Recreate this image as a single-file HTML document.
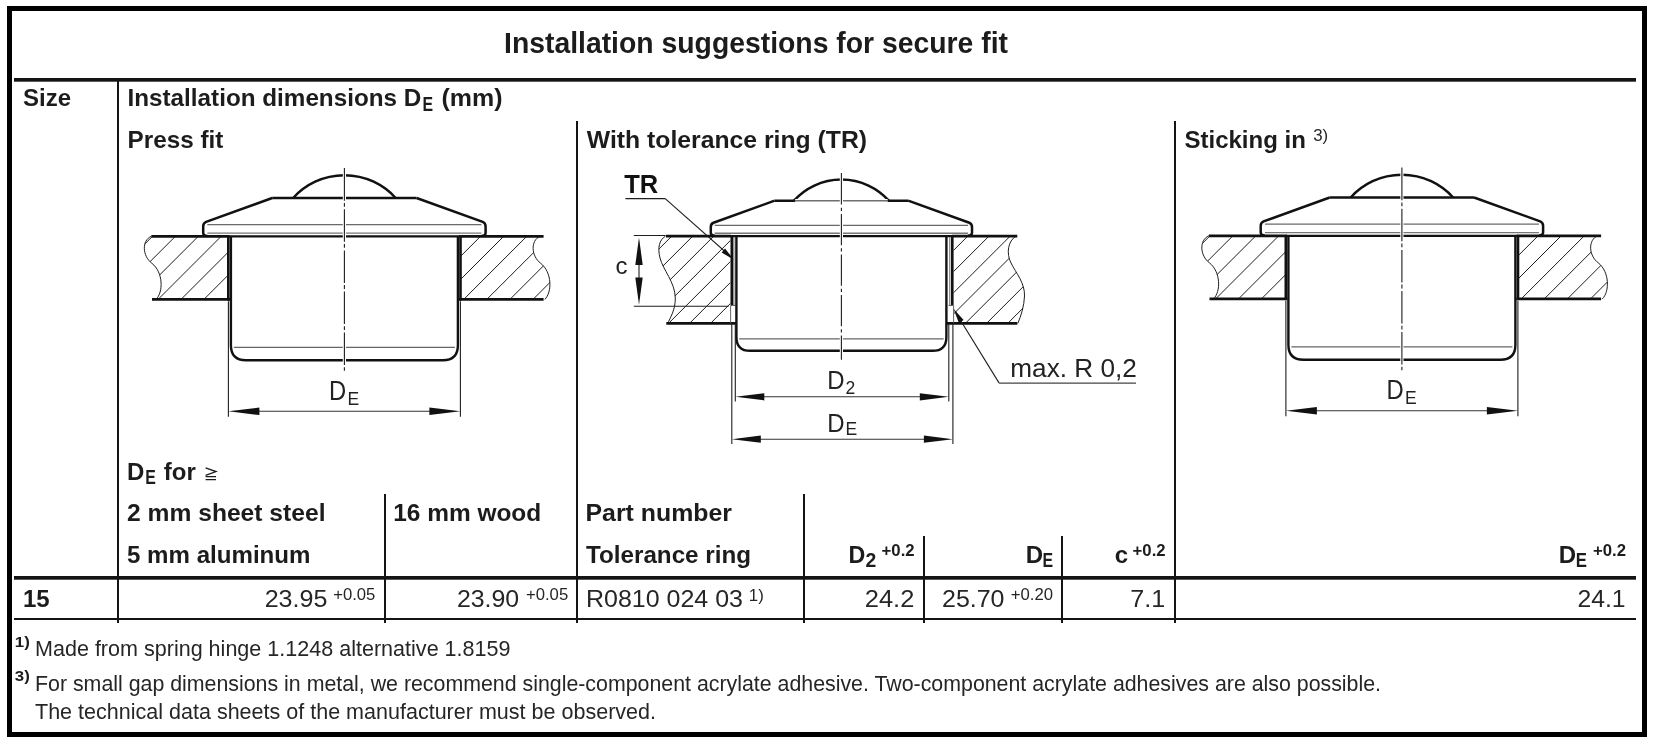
<!DOCTYPE html>
<html><head><meta charset="utf-8"><style>
html,body{margin:0;padding:0;background:#fff;width:1655px;height:745px;overflow:hidden}
svg{display:block;filter:grayscale(1)}
text{font-family:"Liberation Sans",sans-serif}
</style></head><body>
<svg width="1655" height="745" viewBox="0 0 1655 745">
<rect width="1655" height="745" fill="#fff"/>
<rect x="9.5" y="8.5" width="1635" height="726" fill="none" stroke="#000" stroke-width="5"/>
<rect x="14" y="78" width="1622" height="3.7" fill="#141414"/>
<rect x="14" y="576" width="1622" height="3.7" fill="#141414"/>
<rect x="14" y="618" width="1622" height="2" fill="#141414"/>
<rect x="117" y="80" width="2" height="543" fill="#141414"/>
<rect x="576" y="121" width="2" height="502" fill="#141414"/>
<rect x="1174" y="121" width="2" height="502" fill="#141414"/>
<rect x="384" y="494" width="2" height="129" fill="#141414"/>
<rect x="803" y="494" width="2" height="129" fill="#141414"/>
<rect x="923" y="536" width="2" height="87" fill="#141414"/>
<rect x="1061" y="536" width="2" height="87" fill="#141414"/>
<text x="756" y="53" font-size="29" font-weight="bold" text-anchor="middle" fill="#1c1c1c" textLength="504" lengthAdjust="spacingAndGlyphs">Installation suggestions for secure fit</text>
<text x="23" y="105.5" font-size="24" font-weight="bold" text-anchor="start" fill="#1c1c1c">Size</text>
<text x="127.5" y="105.5" font-size="24" font-weight="bold" text-anchor="start" fill="#1c1c1c" textLength="293.8" lengthAdjust="spacingAndGlyphs">Installation dimensions D</text>
<text x="422.4" y="110.6" font-size="19.4" font-weight="bold" text-anchor="start" fill="#1c1c1c" textLength="10.6" lengthAdjust="spacingAndGlyphs">E</text>
<text x="441.5" y="105.5" font-size="24" font-weight="bold" text-anchor="start" fill="#1c1c1c" textLength="61" lengthAdjust="spacingAndGlyphs">(mm)</text>
<text x="127.6" y="147.5" font-size="24" font-weight="bold" text-anchor="start" fill="#1c1c1c" textLength="95.8" lengthAdjust="spacingAndGlyphs">Press fit</text>
<text x="586.8" y="147.5" font-size="24" font-weight="bold" text-anchor="start" fill="#1c1c1c" textLength="280.2" lengthAdjust="spacingAndGlyphs">With tolerance ring (TR)</text>
<text x="1184.5" y="147.5" font-size="24" font-weight="bold" text-anchor="start" fill="#1c1c1c">Sticking in</text>
<text x="1313.2" y="140.6" font-size="16.5" text-anchor="start" fill="#262626" textLength="15" lengthAdjust="spacingAndGlyphs">3)</text>
<text x="127" y="479.8" font-size="24" font-weight="bold" text-anchor="start" fill="#1c1c1c">D</text>
<text x="145.2" y="483.8" font-size="19.4" font-weight="bold" text-anchor="start" fill="#1c1c1c" textLength="10.6" lengthAdjust="spacingAndGlyphs">E</text>
<text x="163.8" y="479.8" font-size="24" font-weight="bold" text-anchor="start" fill="#1c1c1c">for</text>
<path d="M205.6,467.9 L216,471.6 L205.6,475.3 M205.6,476.6 H216 M205.6,479.6 H216" stroke="#1c1c1c" stroke-width="1.3" fill="none"/>
<text x="127" y="521.3" font-size="24" font-weight="bold" text-anchor="start" fill="#1c1c1c" textLength="198.5" lengthAdjust="spacingAndGlyphs">2 mm sheet steel</text>
<text x="393.2" y="521.3" font-size="24" font-weight="bold" text-anchor="start" fill="#1c1c1c" textLength="148" lengthAdjust="spacingAndGlyphs">16 mm wood</text>
<text x="585.5" y="521.3" font-size="24" font-weight="bold" text-anchor="start" fill="#1c1c1c" textLength="146.5" lengthAdjust="spacingAndGlyphs">Part number</text>
<text x="127" y="563" font-size="24" font-weight="bold" text-anchor="start" fill="#1c1c1c" textLength="183.5" lengthAdjust="spacingAndGlyphs">5 mm aluminum</text>
<text x="586" y="563" font-size="24" font-weight="bold" text-anchor="start" fill="#1c1c1c" textLength="165" lengthAdjust="spacingAndGlyphs">Tolerance ring</text>
<text x="865.4" y="563" font-size="24" font-weight="bold" text-anchor="end" fill="#1c1c1c" textLength="16.8" lengthAdjust="spacingAndGlyphs">D</text>
<text x="865.4" y="567" font-size="19.4" font-weight="bold" text-anchor="start" fill="#1c1c1c">2</text>
<text x="914.6" y="555.5" font-size="16" font-weight="bold" text-anchor="end" fill="#1c1c1c" textLength="33" lengthAdjust="spacingAndGlyphs">+0.2</text>
<text x="1043" y="563" font-size="24" font-weight="bold" text-anchor="end" fill="#1c1c1c">D</text>
<text x="1042.6" y="567" font-size="19.4" font-weight="bold" text-anchor="start" fill="#1c1c1c" textLength="10.6" lengthAdjust="spacingAndGlyphs">E</text>
<text x="1128" y="563" font-size="24" font-weight="bold" text-anchor="end" fill="#1c1c1c">c</text>
<text x="1165.6" y="555.5" font-size="16" font-weight="bold" text-anchor="end" fill="#1c1c1c" textLength="33" lengthAdjust="spacingAndGlyphs">+0.2</text>
<text x="1576" y="563" font-size="24" font-weight="bold" text-anchor="end" fill="#1c1c1c">D</text>
<text x="1575.8" y="567" font-size="19.4" font-weight="bold" text-anchor="start" fill="#1c1c1c" textLength="11.2" lengthAdjust="spacingAndGlyphs">E</text>
<text x="1626" y="555.5" font-size="16" font-weight="bold" text-anchor="end" fill="#1c1c1c" textLength="33" lengthAdjust="spacingAndGlyphs">+0.2</text>
<text x="23" y="606.5" font-size="24" font-weight="bold" text-anchor="start" fill="#1c1c1c">15</text>
<text x="327.4" y="606.5" font-size="24" text-anchor="end" fill="#262626" textLength="62.7" lengthAdjust="spacingAndGlyphs">23.95</text>
<text x="375.4" y="599.5" font-size="16.7" text-anchor="end" fill="#262626">+0.05</text>
<text x="519.2" y="606.5" font-size="24" text-anchor="end" fill="#262626" textLength="62.3" lengthAdjust="spacingAndGlyphs">23.90</text>
<text x="568.2" y="599.5" font-size="16.7" text-anchor="end" fill="#262626">+0.05</text>
<text x="586" y="606.5" font-size="24" text-anchor="start" fill="#262626" textLength="157" lengthAdjust="spacingAndGlyphs">R0810 024 03</text>
<text x="748.8" y="601.3" font-size="16" text-anchor="start" fill="#262626" textLength="15" lengthAdjust="spacingAndGlyphs">1)</text>
<text x="914.3" y="606.5" font-size="24" text-anchor="end" fill="#262626" textLength="49.5" lengthAdjust="spacingAndGlyphs">24.2</text>
<text x="1004.5" y="606.5" font-size="24" text-anchor="end" fill="#262626" textLength="62.5" lengthAdjust="spacingAndGlyphs">25.70</text>
<text x="1053" y="599.5" font-size="16.7" text-anchor="end" fill="#262626">+0.20</text>
<text x="1165.2" y="606.5" font-size="24" text-anchor="end" fill="#262626" textLength="35" lengthAdjust="spacingAndGlyphs">7.1</text>
<text x="1625.6" y="606.5" font-size="24" text-anchor="end" fill="#262626" textLength="48.2" lengthAdjust="spacingAndGlyphs">24.1</text>
<text x="14.8" y="646.9" font-size="15.3" font-weight="bold" text-anchor="start" fill="#1c1c1c" textLength="15" lengthAdjust="spacingAndGlyphs">1)</text>
<text x="35" y="656.3" font-size="21.4" text-anchor="start" fill="#262626" textLength="475.5" lengthAdjust="spacingAndGlyphs">Made from spring hinge 1.1248 alternative 1.8159</text>
<text x="14.8" y="681.4" font-size="15.3" font-weight="bold" text-anchor="start" fill="#1c1c1c" textLength="15" lengthAdjust="spacingAndGlyphs">3)</text>
<text x="35" y="690.8" font-size="21.4" text-anchor="start" fill="#262626" textLength="1346" lengthAdjust="spacingAndGlyphs">For small gap dimensions in metal, we recommend single-component acrylate adhesive. Two-component acrylate adhesives are also possible.</text>
<text x="35" y="719.0" font-size="21.4" text-anchor="start" fill="#262626" textLength="621" lengthAdjust="spacingAndGlyphs">The technical data sheets of the manufacturer must be observed.</text>
<clipPath id="hl1"><path d="M151.4,236.3 C141.4,240.3 142.4,256.3 151.9,263.3 C163.4,272.3 163.4,292.3 156,299.4 L228.5,299.4 L228.5,236.3 Z"/></clipPath>
<path d="M-479.9,800 L320.1,0 M-457,800 L343,0 M-434.1,800 L365.9,0 M-411.2,800 L388.8,0 M-388.3,800 L411.7,0 M-365.4,800 L434.6,0 M-342.5,800 L457.5,0 M-319.6,800 L480.4,0 M-296.7,800 L503.3,0 M-273.8,800 L526.2,0" stroke="#1e1e1e" stroke-width="1" fill="none" clip-path="url(#hl1)"/>
<clipPath id="hr1"><path d="M540.2,236.3 C530.2,240.3 531.2,256.3 540.7,263.3 C552.2,272.3 552.2,292.3 544.8,299.4 L460.3,299.4 L460.3,236.3 Z"/></clipPath>
<path d="M-175.5,800 L624.5,0 M-152.4,800 L647.6,0 M-129.3,800 L670.7,0 M-106.2,800 L693.8,0 M-83.1,800 L716.9,0 M-60,800 L740,0 M-36.9,800 L763.1,0 M-13.8,800 L786.2,0 M9.3,800 L809.3,0 M32.4,800 L832.4,0 M55.5,800 L855.5,0 M78.6,800 L878.6,0" stroke="#1e1e1e" stroke-width="1" fill="none" clip-path="url(#hr1)"/>
<path d="M151.4,236.3 C141.4,240.3 142.4,256.3 151.9,263.3 C163.4,272.3 163.4,292.3 156,299.4" fill="none" stroke="#1e1e1e" stroke-width="1"/>
<path d="M540.2,236.3 C530.2,240.3 531.2,256.3 540.7,263.3 C552.2,272.3 552.2,292.3 544.8,299.4" fill="none" stroke="#1e1e1e" stroke-width="1"/>
<line x1="228.5" y1="236.3" x2="460.3" y2="236.3" stroke="#111" stroke-width="2.3"/>
<line x1="151.4" y1="236.3" x2="229.5" y2="236.3" stroke="#111" stroke-width="2.7"/>
<line x1="459.3" y1="236.3" x2="543.6" y2="236.3" stroke="#111" stroke-width="2.7"/>
<line x1="152" y1="299.4" x2="230" y2="299.4" stroke="#111" stroke-width="2.7"/>
<line x1="458.8" y1="299.4" x2="543.6" y2="299.4" stroke="#111" stroke-width="2.7"/>
<line x1="228.3" y1="236.3" x2="228.3" y2="300.6" stroke="#111" stroke-width="2.6"/>
<line x1="460.5" y1="236.3" x2="460.5" y2="300.6" stroke="#111" stroke-width="2.6"/>
<path d="M272.2,198 L206.1,221.9 Q203.1,223.1 203.2,226.8 L203.2,232.8 Q203.2,235.9 207.4,235.9" fill="none" stroke="#111" stroke-width="2.5" stroke-linejoin="round"/>
<path d="M416.6,198 L482.7,221.9 Q485.7,223.1 485.6,226.8 L485.6,232.8 Q485.6,235.9 481.4,235.9" fill="none" stroke="#111" stroke-width="2.5" stroke-linejoin="round"/>
<line x1="272.2" y1="198" x2="416.6" y2="198" stroke="#111" stroke-width="2.5"/>
<path d="M293.15,198 A69,69 0 0 1 395.65,198" fill="none" stroke="#111" stroke-width="2.5"/>
<line x1="207.4" y1="224.6" x2="481.4" y2="224.6" stroke="#6a6a6a" stroke-width="1.3"/>
<line x1="207.4" y1="233.2" x2="481.4" y2="233.2" stroke="#777" stroke-width="1.3"/>
<path d="M230.9,236.3 L230.9,345.3 Q230.9,360.3 245.9,360.3 L442.9,360.3 Q457.9,360.3 457.9,345.3 L457.9,236.3" fill="none" stroke="#111" stroke-width="2.4"/>
<line x1="233.9" y1="347.4" x2="454.9" y2="347.4" stroke="#666" stroke-width="1.3"/>
<line x1="344.4" y1="170.1" x2="344.4" y2="370.8" stroke="#fff" stroke-width="3.2"/>
<line x1="344.4" y1="168.1" x2="344.4" y2="200.7" stroke="#1e1e1e" stroke-width="1.1"/>
<line x1="344.4" y1="202.9" x2="344.4" y2="370.8" stroke="#1e1e1e" stroke-width="1.1" stroke-dasharray="3.8 2.6 32.5 2.2"/>
<line x1="228.4" y1="301.3" x2="228.4" y2="416.7" stroke="#1e1e1e" stroke-width="1.1"/>
<line x1="460.4" y1="301.3" x2="460.4" y2="416.7" stroke="#1e1e1e" stroke-width="1.1"/>
<line x1="248.4" y1="411.3" x2="440.4" y2="411.3" stroke="#333" stroke-width="1.1"/>
<path d="M228.4,411.3 L259.4,407.5 L259.4,415.1 Z" fill="#111"/>
<path d="M460.4,411.3 L429.4,415.1 L429.4,407.5 Z" fill="#111"/>
<text x="329" y="399.8" font-size="27.3" text-anchor="start" fill="#222" textLength="17.2" lengthAdjust="spacingAndGlyphs">D</text>
<text x="347.6" y="404.5" font-size="17.5" text-anchor="start" fill="#222">E</text>
<clipPath id="tl"><path d="M665.5,236.1 C659,240 657.5,248 660,258 C663,270 675,282 675.3,298 C675.5,310 670,318 667.8,323.4 L730.4,323.4 L730.4,236.1 Z"/></clipPath>
<path d="M44.9,800 L844.9,0 M65.9,800 L865.9,0 M86.9,800 L886.9,0 M107.9,800 L907.9,0 M128.9,800 L928.9,0 M149.9,800 L949.9,0 M170.9,800 L970.9,0 M191.9,800 L991.9,0 M212.9,800 L1012.9,0 M233.9,800 L1033.9,0 M254.9,800 L1054.9,0 M275.9,800 L1075.9,0 M296.9,800 L1096.9,0" stroke="#1e1e1e" stroke-width="1" fill="none" clip-path="url(#tl)"/>
<clipPath id="tr"><path d="M1016,236.1 C1008,241 1006,253 1011,263 C1016,273 1025,283 1024.5,296 C1024.2,306 1021,316 1017.8,323.4 L953.6,323.4 L953.6,236.1 Z"/></clipPath>
<path d="M340.3,800 L1140.3,0 M361.5,800 L1161.5,0 M382.7,800 L1182.7,0 M403.9,800 L1203.9,0 M425.1,800 L1225.1,0 M446.3,800 L1246.3,0 M467.5,800 L1267.5,0 M488.7,800 L1288.7,0 M509.9,800 L1309.9,0 M531.1,800 L1331.1,0 M552.3,800 L1352.3,0 M573.5,800 L1373.5,0 M594.7,800 L1394.7,0" stroke="#1e1e1e" stroke-width="1" fill="none" clip-path="url(#tr)"/>
<path d="M665.5,236.1 C659,240 657.5,248 660,258 C663,270 675,282 675.3,298 C675.5,310 670,318 667.8,323.4" fill="none" stroke="#1e1e1e" stroke-width="1"/>
<path d="M1016,236.1 C1008,241 1006,253 1011,263 C1016,273 1025,283 1024.5,296 C1024.2,306 1021,316 1017.8,323.4" fill="none" stroke="#1e1e1e" stroke-width="1"/>
<line x1="730" y1="236.1" x2="953" y2="236.1" stroke="#111" stroke-width="2.3"/>
<line x1="666" y1="236.1" x2="731" y2="236.1" stroke="#111" stroke-width="2.7"/>
<line x1="952" y1="236.1" x2="1017.3" y2="236.1" stroke="#111" stroke-width="2.7"/>
<line x1="666.3" y1="323.4" x2="736" y2="323.4" stroke="#111" stroke-width="2.7"/>
<line x1="946" y1="323.4" x2="1017.3" y2="323.4" stroke="#111" stroke-width="2.7"/>
<line x1="731.8" y1="236.1" x2="731.8" y2="305.4" stroke="#111" stroke-width="2.6"/>
<line x1="952.3" y1="236.1" x2="952.3" y2="305.4" stroke="#111" stroke-width="2.6"/>
<line x1="733.9" y1="237.1" x2="733.9" y2="305" stroke="#555" stroke-width="0.9"/>
<line x1="949.8" y1="237.1" x2="949.8" y2="305" stroke="#555" stroke-width="0.9"/>
<line x1="731" y1="305.4" x2="735.5" y2="305.4" stroke="#555" stroke-width="1"/>
<line x1="948.5" y1="305.4" x2="953" y2="305.4" stroke="#555" stroke-width="1"/>
<line x1="730.6" y1="305.4" x2="730.6" y2="323.4" stroke="#555" stroke-width="0.9"/>
<line x1="953.6" y1="305.4" x2="953.6" y2="323.4" stroke="#555" stroke-width="0.9"/>
<path d="M774.62,200.67 L713.47,222.78 Q710.7,223.89 710.79,227.31 L710.79,232.86 Q710.79,235.73 714.67,235.73" fill="none" stroke="#111" stroke-width="2.5" stroke-linejoin="round"/>
<path d="M908.18,200.67 L969.33,222.78 Q972.1,223.89 972.01,227.31 L972.01,232.86 Q972.01,235.73 968.12,235.73" fill="none" stroke="#111" stroke-width="2.5" stroke-linejoin="round"/>
<line x1="774.62" y1="200.67" x2="908.18" y2="200.67" stroke="#111" stroke-width="2.5"/>
<path d="M793.99,200.67 A63.83,63.83 0 0 1 888.81,200.67" fill="none" stroke="#111" stroke-width="2.5"/>
<line x1="714.67" y1="225.28" x2="968.12" y2="225.28" stroke="#6a6a6a" stroke-width="1.3"/>
<line x1="714.67" y1="233.23" x2="968.12" y2="233.23" stroke="#777" stroke-width="1.3"/>
<path d="M736.41,236.1 L736.41,336.93 Q736.41,350.8 750.29,350.8 L932.51,350.8 Q946.39,350.8 946.39,336.93 L946.39,236.1" fill="none" stroke="#111" stroke-width="2.4"/>
<line x1="739.19" y1="338.87" x2="943.61" y2="338.87" stroke="#666" stroke-width="1.3"/>
<line x1="795.19" y1="200.67" x2="887.61" y2="200.67" stroke="#fff" stroke-width="3.2"/>
<line x1="794.79" y1="200.67" x2="888.01" y2="200.67" stroke="#6e6e6e" stroke-width="1.5"/>
<line x1="841.4" y1="175" x2="841.4" y2="359.8" stroke="#fff" stroke-width="3.2"/>
<line x1="841.4" y1="173" x2="841.4" y2="204.6" stroke="#1e1e1e" stroke-width="1.1"/>
<line x1="841.4" y1="207.7" x2="841.4" y2="359.8" stroke="#1e1e1e" stroke-width="1.1" stroke-dasharray="3.2 3.1 31.3 2.9"/>
<line x1="633.8" y1="235.5" x2="665.5" y2="235.5" stroke="#1e1e1e" stroke-width="1.1"/>
<line x1="633.8" y1="306.3" x2="728.6" y2="306.3" stroke="#1e1e1e" stroke-width="1.1"/>
<line x1="639" y1="262" x2="639" y2="280" stroke="#1e1e1e" stroke-width="1.1"/>
<path d="M639,237.5 L642.7,264.9 L635.3,264.9 Z" fill="#111"/>
<path d="M639,304.8 L635.3,277.4 L642.7,277.4 Z" fill="#111"/>
<text x="615.5" y="274.3" font-size="24" text-anchor="start" fill="#222">c</text>
<text x="624.3" y="193.3" font-size="25.5" font-weight="bold" text-anchor="start" fill="#111">TR</text>
<line x1="625.4" y1="198.6" x2="665.2" y2="198.6" stroke="#1e1e1e" stroke-width="1.1"/>
<line x1="665.2" y1="198.6" x2="730" y2="256" stroke="#1e1e1e" stroke-width="1.1"/>
<path d="M733.8,259.8 L721.62,252.43 L725.08,248.54 Z" fill="#111"/>
<line x1="735.3" y1="324" x2="735.3" y2="401.5" stroke="#1e1e1e" stroke-width="1.1"/>
<line x1="948.8" y1="324" x2="948.8" y2="401.5" stroke="#1e1e1e" stroke-width="1.1"/>
<line x1="731.8" y1="324" x2="731.8" y2="444" stroke="#1e1e1e" stroke-width="1.1"/>
<line x1="952.9" y1="324" x2="952.9" y2="444" stroke="#1e1e1e" stroke-width="1.1"/>
<line x1="750" y1="396.8" x2="935" y2="396.8" stroke="#333" stroke-width="1.1"/>
<path d="M735.3,396.8 L764.3,393.2 L764.3,400.4 Z" fill="#111"/>
<path d="M948.8,396.8 L919.8,400.4 L919.8,393.2 Z" fill="#111"/>
<line x1="750" y1="439.2" x2="935" y2="439.2" stroke="#333" stroke-width="1.1"/>
<path d="M731.8,439.2 L760.8,435.6 L760.8,442.8 Z" fill="#111"/>
<path d="M952.9,439.2 L923.9,442.8 L923.9,435.6 Z" fill="#111"/>
<text x="827.2" y="389.2" font-size="26.3" text-anchor="start" fill="#222" textLength="17.3" lengthAdjust="spacingAndGlyphs">D</text>
<text x="845.6" y="393.8" font-size="17.5" text-anchor="start" fill="#222">2</text>
<text x="827.2" y="431.9" font-size="26.3" text-anchor="start" fill="#222" textLength="17.3" lengthAdjust="spacingAndGlyphs">D</text>
<text x="845.6" y="435.1" font-size="17.5" text-anchor="start" fill="#222">E</text>
<line x1="956" y1="313" x2="999" y2="382.9" stroke="#1e1e1e" stroke-width="1.1"/>
<line x1="999" y1="383.1" x2="1136" y2="383.1" stroke="#444" stroke-width="1.2"/>
<path d="M953.5,308.8 L963.62,320.01 L958.92,322.89 Z" fill="#111"/>
<text x="1010.3" y="376.7" font-size="26.2" text-anchor="start" fill="#222" textLength="126.5" lengthAdjust="spacingAndGlyphs">max. R 0,2</text>
<clipPath id="hl3"><path d="M1208.9,235.8 C1198.9,239.8 1199.9,255.8 1209.4,262.8 C1220.9,271.8 1220.9,291.8 1213.5,298.9 L1286,298.9 L1286,235.8 Z"/></clipPath>
<path d="M577.1,800 L1377.1,0 M600,800 L1400,0 M622.9,800 L1422.9,0 M645.8,800 L1445.8,0 M668.7,800 L1468.7,0 M691.6,800 L1491.6,0 M714.5,800 L1514.5,0 M737.4,800 L1537.4,0 M760.3,800 L1560.3,0 M783.2,800 L1583.2,0" stroke="#1e1e1e" stroke-width="1" fill="none" clip-path="url(#hl3)"/>
<clipPath id="hr3"><path d="M1597.7,235.8 C1587.7,239.8 1588.7,255.8 1598.2,262.8 C1609.7,271.8 1609.7,291.8 1602.3,298.9 L1517.8,298.9 L1517.8,235.8 Z"/></clipPath>
<path d="M881.5,800 L1681.5,0 M904.6,800 L1704.6,0 M927.7,800 L1727.7,0 M950.8,800 L1750.8,0 M973.9,800 L1773.9,0 M997,800 L1797,0 M1020.1,800 L1820.1,0 M1043.2,800 L1843.2,0 M1066.3,800 L1866.3,0 M1089.4,800 L1889.4,0 M1112.5,800 L1912.5,0 M1135.6,800 L1935.6,0" stroke="#1e1e1e" stroke-width="1" fill="none" clip-path="url(#hr3)"/>
<path d="M1208.9,235.8 C1198.9,239.8 1199.9,255.8 1209.4,262.8 C1220.9,271.8 1220.9,291.8 1213.5,298.9" fill="none" stroke="#1e1e1e" stroke-width="1"/>
<path d="M1597.7,235.8 C1587.7,239.8 1588.7,255.8 1598.2,262.8 C1609.7,271.8 1609.7,291.8 1602.3,298.9" fill="none" stroke="#1e1e1e" stroke-width="1"/>
<line x1="1286" y1="235.8" x2="1517.8" y2="235.8" stroke="#111" stroke-width="2.3"/>
<line x1="1208.9" y1="235.8" x2="1287" y2="235.8" stroke="#111" stroke-width="2.7"/>
<line x1="1516.8" y1="235.8" x2="1601.1" y2="235.8" stroke="#111" stroke-width="2.7"/>
<line x1="1209.5" y1="298.9" x2="1287.5" y2="298.9" stroke="#111" stroke-width="2.7"/>
<line x1="1516.3" y1="298.9" x2="1601.1" y2="298.9" stroke="#111" stroke-width="2.7"/>
<line x1="1285.8" y1="235.8" x2="1285.8" y2="300.1" stroke="#111" stroke-width="2.6"/>
<line x1="1518" y1="235.8" x2="1518" y2="300.1" stroke="#111" stroke-width="2.6"/>
<path d="M1329.7,197.5 L1263.6,221.4 Q1260.6,222.6 1260.7,226.3 L1260.7,232.3 Q1260.7,235.4 1264.9,235.4" fill="none" stroke="#111" stroke-width="2.5" stroke-linejoin="round"/>
<path d="M1474.1,197.5 L1540.2,221.4 Q1543.2,222.6 1543.1,226.3 L1543.1,232.3 Q1543.1,235.4 1538.9,235.4" fill="none" stroke="#111" stroke-width="2.5" stroke-linejoin="round"/>
<line x1="1329.7" y1="197.5" x2="1474.1" y2="197.5" stroke="#111" stroke-width="2.5"/>
<path d="M1350.65,197.5 A69,69 0 0 1 1453.15,197.5" fill="none" stroke="#111" stroke-width="2.5"/>
<line x1="1264.9" y1="224.1" x2="1538.9" y2="224.1" stroke="#6a6a6a" stroke-width="1.3"/>
<line x1="1264.9" y1="232.7" x2="1538.9" y2="232.7" stroke="#777" stroke-width="1.3"/>
<path d="M1288.4,235.8 L1288.4,344.8 Q1288.4,359.8 1303.4,359.8 L1500.4,359.8 Q1515.4,359.8 1515.4,344.8 L1515.4,235.8" fill="none" stroke="#111" stroke-width="2.4"/>
<line x1="1291.4" y1="346.9" x2="1512.4" y2="346.9" stroke="#666" stroke-width="1.3"/>
<line x1="1401.9" y1="169.6" x2="1401.9" y2="370.3" stroke="#fff" stroke-width="3.2"/>
<line x1="1401.9" y1="167.6" x2="1401.9" y2="200.2" stroke="#1e1e1e" stroke-width="1.1"/>
<line x1="1401.9" y1="202.4" x2="1401.9" y2="370.3" stroke="#1e1e1e" stroke-width="1.1" stroke-dasharray="3.8 2.6 32.5 2.2"/>
<line x1="1285.9" y1="300.8" x2="1285.9" y2="416.2" stroke="#1e1e1e" stroke-width="1.1"/>
<line x1="1517.9" y1="300.8" x2="1517.9" y2="416.2" stroke="#1e1e1e" stroke-width="1.1"/>
<line x1="1305.9" y1="410.8" x2="1497.9" y2="410.8" stroke="#333" stroke-width="1.1"/>
<path d="M1285.9,410.8 L1316.9,407 L1316.9,414.6 Z" fill="#111"/>
<path d="M1517.9,410.8 L1486.9,414.6 L1486.9,407 Z" fill="#111"/>
<text x="1386.5" y="399.3" font-size="27.3" text-anchor="start" fill="#222" textLength="17.2" lengthAdjust="spacingAndGlyphs">D</text>
<text x="1405.1" y="404" font-size="17.5" text-anchor="start" fill="#222">E</text>
</svg>
</body></html>
